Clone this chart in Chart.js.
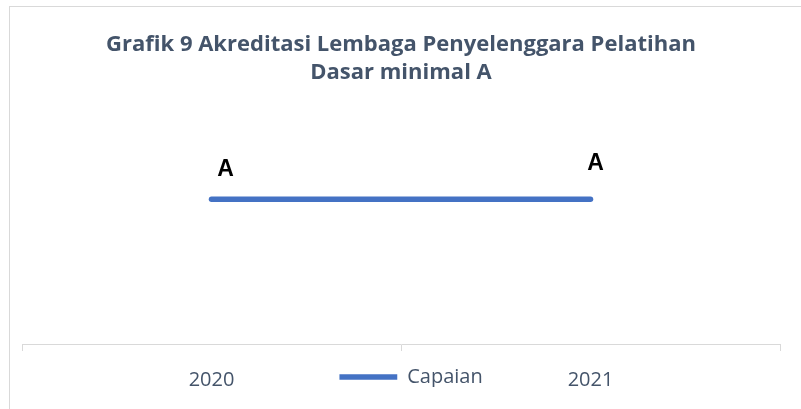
<!DOCTYPE html>
<html>
<head>
<meta charset="utf-8">
<script src="https://cdn.jsdelivr.net/npm/chart.js@4"></script>
<style>
  html, body { margin: 0; padding: 0; background: #fff; }
  body { width: 801px; height: 409px; position: relative; overflow: hidden; }
  .frame { position: absolute; left: 9px; top: 6px; width: 900px; height: 500px; border: 1px solid #D9D9D9; box-sizing: border-box; }
  #chart { position: absolute; left: 0; top: 0; }
</style>
</head>
<body>
<div class="frame"></div>
<canvas id="chart" width="801" height="409"></canvas>
<script>
/* ── Data ─────────────────────────────────────────────── */
const titleLines = ["Grafik 9 Akreditasi Lembaga Penyelenggara Pelatihan", "Dasar minimal A"];
const years = ["2020", "2021"];
const seriesName = "Capaian";
const capaianValues = [3, 3];          // plotted level (the y axis is hidden)
const capaianLabels = ["A", "A"];      // what Excel shows above each point

/* ── Style ────────────────────────────────────────────── */
const TEXT_COLOUR = "#44546A";
const LINE_COLOUR = "#4472C4";
const AXIS_COLOUR = "#D9D9D9";
const LABEL_OFFSETS = [[14, -30], [5, -36]];   // data labels were dragged by hand
const LEGEND_TOP = 367;
const LEGEND_NUDGE = 10;

// Draws the "A" labels next to each point
const pointLabels = {
  id: "pointLabels",
  afterDatasetsDraw(chart) {
    const { ctx } = chart;
    const meta = chart.getDatasetMeta(0);
    ctx.save();
    ctx.font = "bold 23px 'Liberation Sans', Arial, sans-serif";
    ctx.fillStyle = "#000";
    ctx.textAlign = "center";
    ctx.textBaseline = "middle";
    meta.data.forEach((pt, i) => {
      const [dx, dy] = LABEL_OFFSETS[i];
      ctx.fillText(capaianLabels[i], pt.x + dx, pt.y + dy);
    });
    ctx.restore();
  },
};

// Excel puts the legend on the same row as the category labels
const legendRow = {
  id: "legendRow",
  afterLayout(chart) {
    const lg = chart.legend;
    const col = lg.columnSizes && lg.columnSizes[0];
    if (!col) return;
    const mid = (chart.chartArea.left + chart.chartArea.right) / 2 + LEGEND_NUDGE;
    lg.left = mid - col.width / 2;
    lg.right = lg.left + col.width;
    lg.top = LEGEND_TOP;
    lg.bottom = LEGEND_TOP + col.height;
  },
};

new Chart(document.getElementById("chart"), {
  type: "line",
  data: {
    labels: years,
    datasets: [{
      label: seriesName,
      data: capaianValues,
      borderColor: LINE_COLOUR,
      backgroundColor: LINE_COLOUR,
      borderWidth: 5.5,
      borderCapStyle: "round",
      pointRadius: 0,
      fill: false,
    }],
  },
  options: {
    responsive: false,
    animation: false,
    layout: { padding: { left: 22, right: 21, top: 0, bottom: 0 } },
    plugins: {
      title: {
        display: true,
        text: titleLines,
        color: TEXT_COLOUR,
        font: { family: "'Open Sans', sans-serif", size: 22, weight: "bold", lineHeight: 1.27 },
        padding: { top: 31, bottom: 16 },
      },
      legend: {
        position: "chartArea",
        align: "center",
        labels: {
          usePointStyle: true,
          pointStyle: "line",
          pointStyleWidth: 58,
          padding: 0,
          color: TEXT_COLOUR,
          font: { family: "'Open Sans', sans-serif", size: 20 },
        },
      },
      tooltip: { enabled: false },
    },
    scales: {
      x: {
        offset: true,
        border: { display: true, color: AXIS_COLOUR, width: 1 },
        grid: { offset: true, drawOnChartArea: false, drawTicks: true, tickLength: 7, color: AXIS_COLOUR },
        ticks: {
          color: TEXT_COLOUR,
          padding: 17,
          font: { family: "'Open Sans', sans-serif", size: 20 },
        },
      },
      y: { display: false, min: 0, max: 5 },
    },
  },
  plugins: [pointLabels, legendRow],
});
</script>
</body>
</html>
